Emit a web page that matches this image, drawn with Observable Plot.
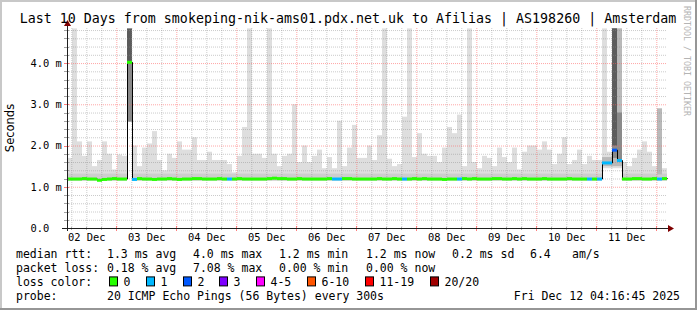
<!DOCTYPE html>
<html><head><meta charset="utf-8">
<script src="https://cdn.jsdelivr.net/npm/d3@7"></script>
<script src="https://cdn.jsdelivr.net/npm/@observablehq/plot@0.6"></script>
<style>
html,body{margin:0;padding:0;background:#fff;}
#chart svg{display:block;}
</style></head><body><div id="chart"></div>
<script>
// ---- time frame (10 days, 2-hour bins) ----
const START = Date.UTC(2025, 11, 2, 4, 16, 45);
const END = Date.UTC(2025, 11, 12, 4, 16, 45);
const BIN_HOURS = 2;

// ---- median RTT per bin (ms) ----
const median = [
  1.20,1.20,1.20,1.21,1.20,1.20,1.17,1.19,1.20,1.21,
  1.20,1.20,4.03,1.19,1.21,1.20,1.20,1.19,1.20,1.20,
  1.21,1.20,1.19,1.20,1.20,1.21,1.21,1.20,1.20,1.20,
  1.21,1.20,1.20,1.20,1.21,1.20,1.20,1.20,1.20,1.20,
  1.21,1.22,1.21,1.21,1.20,1.20,1.21,1.20,1.20,1.20,
  1.20,1.20,1.21,1.20,1.20,1.21,1.21,1.20,1.20,1.20,
  1.20,1.20,1.21,1.20,1.20,1.21,1.20,1.20,1.20,1.21,
  1.20,1.21,1.20,1.20,1.20,1.19,1.20,1.20,1.20,1.21,
  1.20,1.21,1.20,1.20,1.20,1.21,1.21,1.20,1.20,1.21,
  1.20,1.21,1.20,1.20,1.20,1.21,1.20,1.20,1.20,1.20,
  1.21,1.20,1.20,1.20,1.20,1.20,1.20,1.59,1.59,1.90,
  1.65,1.20,1.20,1.21,1.21,1.20,1.20,1.21,1.20,1.21
];
// ---- smoke: highest ping per bin (ms) ----
const smokeTop = [
  1.70,4.84,2.10,1.75,2.10,1.50,1.65,2.10,1.80,1.42,
  1.78,1.75,4.84,2.00,1.50,1.95,2.05,2.35,1.65,1.40,
  1.80,1.70,2.10,1.90,1.90,2.20,1.65,1.65,1.85,1.65,
  1.65,1.65,1.55,1.35,1.75,2.45,4.84,1.80,1.80,1.70,
  4.84,1.80,1.50,1.75,1.80,3.00,1.60,2.00,1.60,1.75,
  1.90,1.45,1.72,1.45,2.60,1.50,1.95,2.50,1.70,1.70,
  2.00,1.65,2.25,4.84,1.68,1.50,1.55,2.70,4.84,1.72,
  2.30,1.80,1.75,1.75,1.60,1.95,2.45,2.30,2.75,1.50,
  4.84,1.60,1.45,1.75,1.70,1.50,1.95,1.72,1.60,1.95,
  1.42,1.85,2.00,2.00,1.90,2.10,1.90,1.55,1.80,2.20,
  1.55,1.65,1.90,1.55,1.75,1.65,1.65,4.84,1.85,4.84,
  4.84,1.60,1.50,1.70,1.90,2.10,1.85,1.50,2.90,1.45
];
// ---- smoke: lowest ping per bin (ms) ----
const smokeLow = [
  1.15,1.15,1.15,1.15,1.15,1.15,1.15,1.15,1.15,1.15,
  1.15,1.15,2.58,1.15,1.15,1.15,1.15,1.15,1.15,1.15,
  1.15,1.15,1.15,1.15,1.15,1.15,1.15,1.15,1.15,1.15,
  1.15,1.15,1.15,1.15,1.15,1.15,1.15,1.15,1.15,1.15,
  1.15,1.15,1.15,1.15,1.15,1.15,1.15,1.15,1.15,1.15,
  1.15,1.15,1.15,1.15,1.15,1.15,1.15,1.15,1.15,1.15,
  1.15,1.15,1.15,1.15,1.15,1.15,1.15,1.15,1.15,1.15,
  1.15,1.15,1.15,1.15,1.15,1.15,1.15,1.15,1.15,1.15,
  1.15,1.15,1.15,1.15,1.15,1.15,1.15,1.15,1.15,1.15,
  1.15,1.15,1.15,1.15,1.15,1.15,1.15,1.15,1.15,1.15,
  1.15,1.15,1.15,1.15,1.15,1.15,1.15,1.45,1.45,1.45,
  1.45,1.15,1.15,1.15,1.15,1.15,1.15,1.15,1.15,1.15
];
const SMOKE_INNER_TOP = 1.32;   // upper edge of the denser inner smoke
// ---- dense smoke layers (bin, low, high, density layer 1..3) ----
const denseBins = [12,12,107,108,109,109,109,110,110,118];
const denseLo   = [2.58,4.03,1.50,1.50,1.50,1.70,2.00,1.50,1.60,1.30];
const denseHi   = [4.03,4.84,1.72,1.72,4.84,4.84,4.84,4.84,2.80,2.90];
const denseLyr  = [2,3,1,1,1,2,3,1,2,1];
// ---- packet loss (bin -> lost pings) ----
const lossBinIdx = [13,32,53,54,67,78,104,106,107,108,109,110,118];
const lossCount  = [1,1,1,1,1,1,1,1,1,1,2,1,1];

// ---- axis labels ----
const yTickValues = [0, 1, 2, 3, 4];
const yMinorValues = [0.2,0.4,0.6,0.8,1.2,1.4,1.6,1.8,2.2,2.4,2.6,2.8,3.2,3.4,3.6,3.8,4.2,4.4,4.6,4.8];
const dayLabelDates = ["2025-12-02","2025-12-03","2025-12-04","2025-12-05","2025-12-06",
                       "2025-12-07","2025-12-08","2025-12-09","2025-12-10","2025-12-11"];

// ---- legend texts ----
const titleText = "Last 10 Days from smokeping-nik-ams01.pdx.net.uk to Afilias | AS198260 | Amsterdam";
const yLabel = "Seconds";
const rttLabel = "median rtt:";
const rttStats = ["1.3 ms avg","4.0 ms max","1.2 ms min","1.2 ms now","0.2 ms sd","6.4","am/s"];
const lossLabel = "packet loss:";
const lossStats = ["0.18 % avg","7.08 % max","0.00 % min","0.00 % now"];
const lossColorLabel = "loss color:";
const lossClasses = ["0","1","2","3","4-5","6-10","11-19","20/20"];
const lossColors = ["#26ff00","#00b8ff","#0059ff","#7e00ff","#ff00ff","#ff5500","#ff0000","#a10000"];
const probeLabel = "probe:";
const probeText = "20 ICMP Echo Pings (56 Bytes) every 300s";
const dateText = "Fri Dec 12 04:16:45 2025";
const creditText = "RRDTOOL / TOBI OETIKER";

// ---- build tables ----
const H = 3600e3;
const binStart = i => new Date(START + i * BIN_HOURS * H);
const lossByBin = new Map(lossBinIdx.map((b, k) => [b, lossCount[k]]));
const bins = median.map((m, i) => ({
  t1: binStart(i), t2: binStart(i + 1), median: m,
  top: smokeTop[i], low: smokeLow[i], loss: lossByBin.get(i) ?? 0
}));
const dense = denseBins.map((b, k) => ({t1: binStart(b), t2: binStart(b + 1), lo: denseLo[k], hi: denseHi[k], layer: denseLyr[k]}));
const denseShade = {1: "#b9b9b9", 2: "#8a8a8a", 3: "#5c5c5c"};
const stepPts = bins.map(d => ({t: d.t1, v: d.median})).concat([{t: new Date(END), v: median[median.length - 1]}]);
const lossColorOf = n => n === 0 ? lossColors[0] : n === 1 ? lossColors[1] : n === 2 ? lossColors[2] : n === 3 ? lossColors[3]
  : n <= 5 ? lossColors[4] : n <= 10 ? lossColors[5] : n <= 19 ? lossColors[6] : lossColors[7];

const labelDates = dayLabelDates.map(s => new Date(s + "T12:00:00Z"));
const majorX = d3.utcDay.range(new Date(START), new Date(END));
const minorX = d3.utcHour.every(6).range(new Date(START), new Date(END)).filter(d => d.getUTCHours() !== 0);

const MONO = "DejaVu Sans Mono";
const gridMinor = {stroke: "#8c8c8c", strokeOpacity: 0.45, strokeDasharray: "1,1"};
const gridMajor = {stroke: "#ff5f5f", strokeOpacity: 0.55, strokeDasharray: "1,1"};

const chart = Plot.plot({
  width: 697, height: 310,
  marginLeft: 67, marginRight: 30, marginTop: 28, marginBottom: 82,
  style: {background: "#ffffff", fontFamily: MONO, color: "#000"},
  x: {type: "utc", domain: [new Date(START), new Date(END)], axis: null},
  y: {domain: [0, 4.85], axis: null},
  marks: [
    Plot.rect(bins, {x1: "t1", x2: "t2", y1: "low", y2: "top", fill: "#dedede"}),
    Plot.rect(bins.filter(d => d.low < SMOKE_INNER_TOP), {x1: "t1", x2: "t2", y1: "low", y2: () => SMOKE_INNER_TOP, fill: "#cecece"}),
    Plot.rect(dense, {x1: "t1", x2: "t2", y1: "lo", y2: "hi", fill: d => denseShade[d.layer]}),
    Plot.ruleY(yMinorValues, gridMinor),
    Plot.ruleX(minorX, gridMinor),
    Plot.ruleY(yTickValues.filter(v => v > 0), gridMajor),
    Plot.ruleX(majorX, gridMajor),
    Plot.line(stepPts, {x: "t", y: "v", curve: "step-after", stroke: "#000", strokeWidth: 1}),
    Plot.ruleY(bins, {y: "median", x1: "t1", x2: "t2", stroke: d => lossColorOf(d.loss), strokeWidth: 3}),
    Plot.axisX({ticks: labelDates, tickFormat: d3.utcFormat("%d %b"), tickSize: 0, tickPadding: 5,
                fontSize: 10.4, fontFamily: MONO, label: null}),
    Plot.axisY({ticks: yTickValues, tickFormat: d => d === 0 ? "0.0" : d.toFixed(1) + " m",
                tickSize: 0, tickPadding: 0, textAnchor: "start", dx: -37, fontSize: 10.4, fontFamily: MONO, label: null})
  ]
});
document.getElementById("chart").appendChild(chart);

// ---- decorations drawn with the plot's own scales ----
const svg = d3.select(chart);
const X = chart.scale("x"), Y = chart.scale("y");
const xL = X.apply(new Date(START)), xR = X.apply(new Date(END));
const yB = Y.apply(0), yT = Y.apply(Y.domain[1]);

// small axis ticks
const tk = svg.append("g");
majorX.forEach(d => { const x = Math.round(X.apply(d)) + 0.5;
  tk.append("line").attr("x1", x).attr("x2", x).attr("y1", yB - 2).attr("y2", yB + 3).attr("stroke", "#ff5f5f").attr("stroke-opacity", 0.8); });
minorX.forEach(d => { const x = Math.round(X.apply(d)) + 0.5;
  tk.append("line").attr("x1", x).attr("x2", x).attr("y1", yB - 1).attr("y2", yB + 2).attr("stroke", "#8c8c8c").attr("stroke-opacity", 0.7); });
yTickValues.concat(yMinorValues).forEach(v => { const y = Math.round(Y.apply(v)) + 0.5;
  tk.append("line").attr("x1", xL - 3).attr("x2", xL + 2).attr("y1", y).attr("y2", y)
    .attr("stroke", yTickValues.includes(v) ? "#ff5f5f" : "#8c8c8c").attr("stroke-opacity", 0.8); });

// axis lines with arrows
const ax = svg.append("g");
const yb = Math.round(yB) + 0.5, xl = Math.round(xL) + 0.5;
ax.append("line").attr("x1", xL - 5).attr("x2", xR + 2).attr("y1", yb).attr("y2", yb).attr("stroke", "#1f1f1f");
ax.append("line").attr("x1", xl).attr("x2", xl).attr("y1", yB + 3).attr("y2", yT - 3).attr("stroke", "#1f1f1f");
ax.append("path").attr("d", `M${xR + 1},${yb - 3.5}L${xR + 7},${yb}L${xR + 1},${yb + 3.5}Z`).attr("fill", "#7f0000");
ax.append("path").attr("d", `M${xl - 3.5},${yT - 2}L${xl},${yT - 8}L${xl + 3.5},${yT - 2}Z`).attr("fill", "#7f0000");

// title
svg.append("text").attr("x", 348).attr("y", 22.5).attr("text-anchor", "middle")
  .attr("font-family", MONO).attr("font-size", 13.3).attr("fill", "#000").text(titleText);
// y label
svg.append("text").attr("transform", "translate(14,128) rotate(-90)").attr("text-anchor", "middle")
  .attr("font-family", "DejaVu Sans").attr("font-size", 11.5).attr("fill", "#000").text(yLabel);
// credit
svg.append("text").attr("transform", "translate(684,6) rotate(90)").attr("text-anchor", "start")
  .attr("font-family", MONO).attr("font-size", 8.3).attr("fill", "#b4b4b4").text(creditText);

// legend
const lg = svg.append("g").attr("font-family", MONO).attr("font-size", 11.5).attr("fill", "#000").style("white-space", "pre");
const rowBase = [258.4, 272.4, 286.4, 300.4];
const colX = [107, 193, 279, 366, 452, 530, 572];
const put = (x, y, s, anchor) => lg.append("text").attr("x", x).attr("y", y).attr("text-anchor", anchor || "start").text(s);
put(16, rowBase[0], rttLabel);
rttStats.forEach((s, i) => put(colX[i], rowBase[0], s));
put(16, rowBase[1], lossLabel);
lossStats.forEach((s, i) => put(colX[i], rowBase[1], s));
put(16, rowBase[2], lossColorLabel);
const swatchX = [109, 146, 183, 219, 256, 307, 365, 430];
lossClasses.forEach((s, i) => {
  lg.append("rect").attr("x", swatchX[i] + 0.5).attr("y", rowBase[2] - 9.5).attr("width", 8).attr("height", 9)
    .attr("fill", lossColors[i]).attr("stroke", "#000").attr("stroke-width", 1);
  put(swatchX[i] + 14.5, rowBase[2], s);
});
put(16, rowBase[3], probeLabel);
put(107, rowBase[3], probeText);
put(680, rowBase[3], dateText, "end");

// frame shading
const fr = svg.append("g");
fr.append("rect").attr("x", 0).attr("y", 0).attr("width", 697).attr("height", 2).attr("fill", "#c8c8c8");
fr.append("rect").attr("x", 0).attr("y", 0).attr("width", 2).attr("height", 310).attr("fill", "#c8c8c8");
fr.append("rect").attr("x", 695).attr("y", 0).attr("width", 2).attr("height", 310).attr("fill", "#969696");
fr.append("rect").attr("x", 0).attr("y", 308).attr("width", 697).attr("height", 2).attr("fill", "#969696");
</script></body></html>
